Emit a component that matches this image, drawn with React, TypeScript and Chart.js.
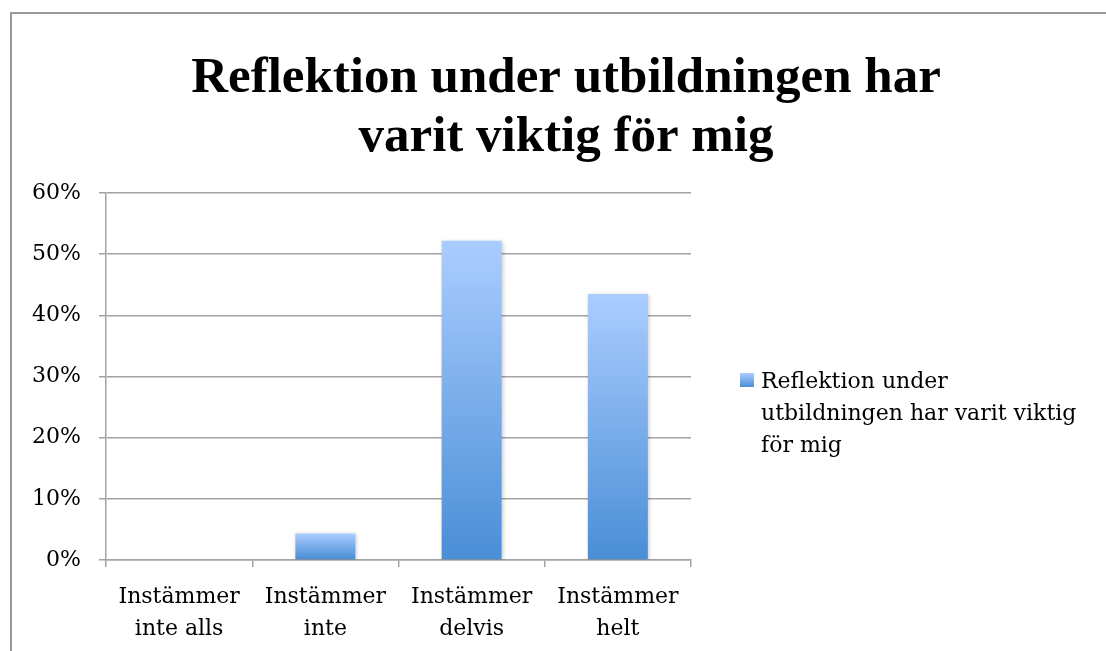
import React, { useEffect, useRef } from "react";
import { Chart, registerables } from "chart.js";

Chart.register(...registerables);

const TITLE_LINES = ["Reflektion under utbildningen har", "varit viktig för mig"];
const CATEGORIES = [
  ["Instämmer", "inte alls"],
  ["Instämmer", "inte"],
  ["Instämmer", "delvis"],
  ["Instämmer", "helt"],
];
const SERIES_LABEL = "Reflektion under utbildningen har varit viktig för mig";
const VALUES = [0, 0.0435, 0.522, 0.435];
const Y_MIN = 0;
const Y_MAX = 0.6;
const Y_STEP = 0.1;

const TEXT_FONT = "'DejaVu Serif', serif";
const TITLE_FONT = "'Liberation Serif', serif";
const GRID = "#a3a3a3";
const BAR_TOP = "#abcdff";
const BAR_BOTTOM = "#4a8ed6";

function makeGradient(ctx: CanvasRenderingContext2D, y0: number, y1: number) {
  const g = ctx.createLinearGradient(0, y0, 0, y1);
  g.addColorStop(0, BAR_TOP);
  g.addColorStop(1, BAR_BOTTOM);
  return g;
}

const framePlugin = {
  id: "frame",
  beforeDraw(chart: any) {
    const ctx = chart.ctx as CanvasRenderingContext2D;
    ctx.save();
    ctx.fillStyle = "#ffffff";
    ctx.fillRect(0, 0, chart.width, chart.height);
    ctx.strokeStyle = "#9a9a9a";
    ctx.lineWidth = 2;
    ctx.beginPath();
    ctx.moveTo(11, chart.height);
    ctx.lineTo(11, 13);
    ctx.lineTo(chart.width, 13);
    ctx.stroke();
    ctx.restore();
  },
};

const titlePlugin = {
  id: "customTitle",
  afterDraw(chart: any) {
    const ctx = chart.ctx as CanvasRenderingContext2D;
    ctx.save();
    ctx.fillStyle = "#000";
    ctx.font = `bold 51px ${TITLE_FONT}`;
    ctx.textAlign = "center";
    ctx.textBaseline = "middle";
    TITLE_LINES.forEach((line, i) => {
      ctx.fillText(line, 566, 79 + i * 59);
    });
    ctx.restore();
  },
};

const gradientPlugin = {
  id: "barGradient",
  beforeDatasetsDraw(chart: any) {
    const ctx = chart.ctx as CanvasRenderingContext2D;
    const meta = chart.getDatasetMeta(0);
    meta.data.forEach((el: any) => {
      const { y, base } = el.getProps(["y", "base"], true);
      el.options = Object.assign({}, el.options, {
        backgroundColor: makeGradient(ctx, y, base),
      });
    });
    ctx.save();
    ctx.shadowColor = "rgba(0,0,0,0.22)";
    ctx.shadowBlur = 4;
    ctx.shadowOffsetX = 1;
    ctx.shadowOffsetY = 1;
  },
  afterDatasetsDraw(chart: any) {
    chart.ctx.restore();
  },
};

function wrapText(ctx: CanvasRenderingContext2D, text: string, maxWidth: number) {
  const words = text.split(" ");
  const lines: string[] = [];
  let cur = "";
  words.forEach((w) => {
    const test = cur ? cur + " " + w : w;
    if (ctx.measureText(test).width > maxWidth && cur) {
      lines.push(cur);
      cur = w;
    } else {
      cur = test;
    }
  });
  if (cur) lines.push(cur);
  return lines;
}

const legendPlugin = {
  id: "customLegend",
  afterDraw(chart: any) {
    const ctx = chart.ctx as CanvasRenderingContext2D;
    const area = chart.chartArea;
    const label = chart.data.datasets[0].label as string;
    const bx = area.right + 49;
    const by = 373;
    ctx.save();
    ctx.fillStyle = makeGradient(ctx, by, by + 14);
    ctx.fillRect(bx, by, 14, 14);
    ctx.fillStyle = "#000";
    ctx.font = `22px ${TEXT_FONT}`;
    ctx.textAlign = "left";
    ctx.textBaseline = "middle";
    const lines = wrapText(ctx, label, 335);
    lines.forEach((line, i) => {
      ctx.fillText(line, bx + 21, 382 + i * 32);
    });
    ctx.restore();
  },
};

export default function App() {
  const canvasRef = useRef<HTMLCanvasElement | null>(null);

  useEffect(() => {
    document.body.style.margin = "0";
    const canvas = canvasRef.current;
    if (!canvas) return;
    const chart = new Chart(canvas, {
      type: "bar",
      data: {
        labels: CATEGORIES,
        datasets: [
          {
            label: SERIES_LABEL,
            data: VALUES,
            backgroundColor: () => BAR_BOTTOM,
            borderWidth: 0,
            categoryPercentage: 1,
            barPercentage: 0.41,
          },
        ],
      },
      options: {
        responsive: false,
        animation: false,
        devicePixelRatio: 1,
        layout: { padding: { top: 193, left: 20, right: 415, bottom: 10 } },
        plugins: {
          legend: { display: false },
          title: { display: false },
          tooltip: { enabled: false },
        },
        scales: {
          x: {
            afterFit: (scale: any) => {
              scale.height = 81;
            },
            grid: {
              display: true,
              drawOnChartArea: false,
              drawTicks: true,
              tickLength: 7,
              color: GRID,
              lineWidth: 1.5,
              offset: true,
            },
            border: { display: true, color: GRID, width: 1.5 },
            ticks: {
              color: "#000",
              font: { family: TEXT_FONT, size: 22, lineHeight: 1.45 },
              padding: 14,
              maxRotation: 0,
              autoSkip: false,
            },
          },
          y: {
            min: Y_MIN,
            max: Y_MAX,
            afterFit: (scale: any) => {
              scale.width = 86;
            },
            grid: {
              color: GRID,
              lineWidth: 1.5,
              tickLength: 7,
              drawTicks: true,
            },
            border: { display: true, color: GRID, width: 1.5 },
            ticks: {
              stepSize: Y_STEP,
              color: "#000",
              padding: 18,
              font: { family: TEXT_FONT, size: 22 },
              callback: (v: any) => `${Math.round(Number(v) * 100)}%`,
            },
          },
        },
      },
      plugins: [framePlugin, gradientPlugin, titlePlugin, legendPlugin],
    });
    return () => chart.destroy();
  }, []);

  return <canvas ref={canvasRef} width={1106} height={651} style={{ display: "block" }} />;
}
